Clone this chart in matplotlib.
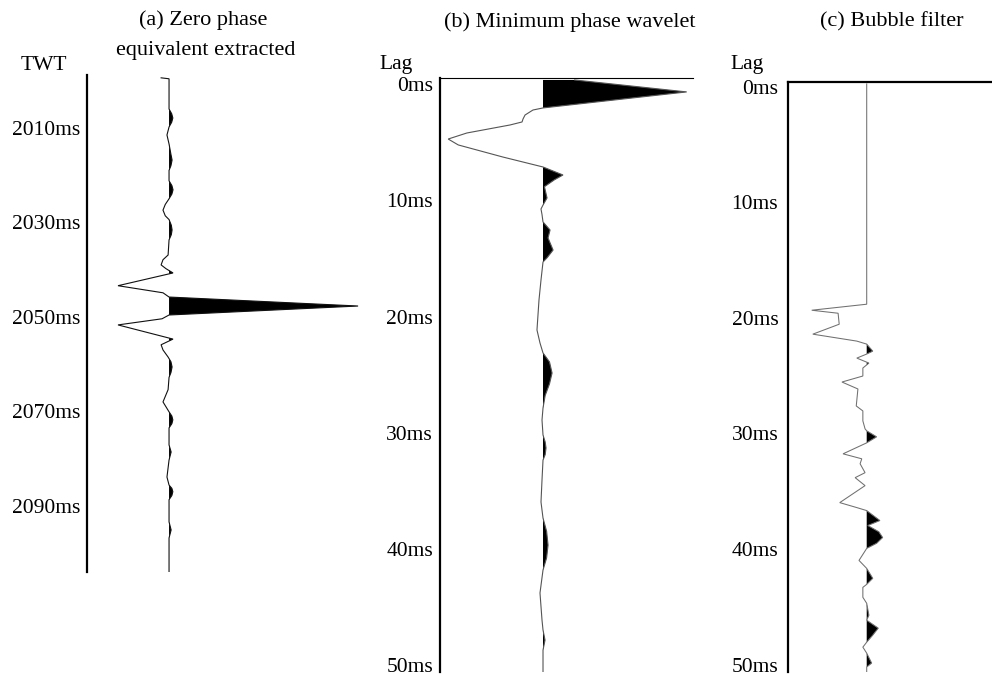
import numpy as np
import matplotlib.pyplot as plt
from matplotlib.transforms import ScaledTranslation

plt.rcParams['font.family'] = ['Liberation Serif', 'DejaVu Serif']
plt.rcParams['font.size'] = 15.5

# (a) zero phase equivalent extracted: two-way time (ms) and relative amplitude
twt_a = [1999.4, 1999.6, 2006.0, 2007.0, 2007.9, 2008.8, 2009.8, 2011.5, 2013.4,
         2015.6, 2016.8, 2018.0, 2019.0, 2021.2, 2022.2, 2023.1, 2024.0, 2025.0,
         2026.2, 2027.4, 2028.6, 2029.4, 2030.6, 2031.6, 2032.6, 2033.7, 2036.9,
         2037.9, 2039.0, 2039.8, 2040.7, 2043.4, 2044.9, 2045.8, 2047.7, 2049.6,
         2050.4, 2051.7, 2054.7, 2055.9, 2057.0, 2058.5, 2059.5, 2060.6, 2061.8,
         2062.8, 2065.4, 2068.0, 2070.1, 2071.0, 2071.8, 2072.6, 2073.5, 2077.1,
         2078.6, 2080.3, 2083.9, 2085.6, 2086.3, 2087.0, 2087.8, 2088.7, 2093.4,
         2095.1, 2096.8, 2104.0]
amp_a = [-0.042, 0.0, 0.0, 0.014, 0.020, 0.014, 0.0, -0.011, 0.0,
         0.010, 0.016, 0.010, 0.0, 0.0, 0.015, 0.021, 0.015, 0.0,
         -0.020, -0.032, -0.020, 0.0, 0.012, 0.016, 0.012, 0.0, -0.005,
         -0.032, -0.042, -0.016, 0.021, -0.270, -0.032, 0.0, 1.0, 0.0,
         -0.037, -0.270, 0.021, -0.042, -0.032, -0.005, 0.010, 0.016, 0.010,
         0.0, -0.005, -0.032, 0.0, 0.015, 0.020, 0.015, 0.0, 0.0,
         0.011, 0.0, -0.011, 0.0, 0.015, 0.020, 0.015, 0.0, 0.0,
         0.011, 0.0, 0.0]

# (b) minimum phase wavelet: lag (ms) and relative amplitude
lag_b = [0.00, 1.03, 2.41, 2.59, 3.02, 3.36, 3.62, 3.88, 4.57, 5.09, 5.60, 6.64,
         7.50, 8.19, 8.60, 9.20, 10.17, 10.78, 11.12, 11.60, 12.24, 12.93, 13.62,
         14.66, 15.30, 15.69, 17.24, 18.97, 21.55, 22.67, 23.53, 24.30, 25.26,
         26.20, 27.20, 28.28, 29.31, 30.60, 31.20, 31.72, 32.30, 32.76, 34.48,
         36.38, 37.76, 38.90, 40.09, 41.20, 42.24, 44.22, 46.55, 47.41, 48.28,
         49.14, 51.03]
amp_b = [0.22, 1.00, 0.0, -0.07, -0.125, -0.139, -0.146, -0.23, -0.53, -0.66, -0.59, -0.28,
         0.0, 0.139, 0.08, 0.01, 0.028, 0.0, -0.014, -0.007, 0.0, 0.049, 0.035,
         0.07, 0.03, 0.0, -0.014, -0.028, -0.042, -0.021, 0.0, 0.045, 0.063,
         0.045, 0.015, 0.0, -0.007, 0.0, 0.015, 0.021, 0.015, 0.0, -0.007,
         -0.014, 0.0, 0.025, 0.035, 0.025, 0.0, -0.021, -0.007, 0.0, 0.014,
         0.0, 0.0]

# (c) bubble filter: lag (ms) and relative amplitude
lag_c = [0.17, 19.22, 19.74, 20.00, 20.95, 21.81, 22.41, 22.67, 23.28, 23.53, 23.88,
         24.31, 24.74, 25.43, 25.95, 26.55, 28.02, 28.45, 29.31, 30.00, 30.17, 30.69,
         31.21, 32.16, 32.59, 33.02, 33.79, 34.22, 34.91, 36.38, 36.81, 37.07, 37.93,
         38.36, 38.90, 39.40, 39.90, 40.34, 41.38, 42.07, 42.93, 43.45, 43.71, 44.57,
         45.09, 46.12, 46.55, 47.24, 47.90, 48.45, 48.88, 49.40, 50.26, 50.60, 51.03]
amp_c = [0.0, 0.0, -1.0, -0.52, -0.50, -0.98, -0.18, 0.0, 0.11, 0.0, -0.18,
         0.04, -0.07, -0.07, -0.45, -0.16, -0.19, -0.07, -0.07, -0.03, 0.0, 0.18,
         0.0, -0.43, -0.09, -0.12, -0.03, -0.21, -0.03, -0.49, -0.18, 0.0, 0.24,
         0.02, 0.22, 0.29, 0.18, 0.0, -0.14, 0.0, 0.11, 0.0, -0.07, -0.07,
         0.0, 0.04, 0.0, 0.21, 0.10, 0.0, -0.07, 0.0, 0.09, 0.0, 0.0]

twt_ticks = [2010, 2030, 2050, 2070, 2090]
lag_ticks = [0, 10, 20, 30, 40, 50]

W, H = 992, 675
fig = plt.figure(figsize=(W / 100, H / 100), dpi=100)


def add_panel(left, top, right, bottom):
    return fig.add_axes([left / W, 1 - bottom / H, (right - left) / W, (bottom - top) / H])


def wiggle(ax, t, a, color, lw=0.8):
    t = np.asarray(t)
    a = np.asarray(a)
    ax.fill_betweenx(t, 0, a, where=a > 0, interpolate=True, color='black', lw=0)
    ax.plot(a, t, color=color, lw=lw, solid_joinstyle='miter')


def style(ax, xlim, ylim, ticks, labels, top_lw=None, pad=6, drop=0.0):
    ax.set_xlim(xlim)
    ax.set_ylim(ylim)
    ax.set_xticks([])
    ax.set_yticks(ticks, labels)
    ax.tick_params(axis='y', length=0, pad=pad, labelsize=15.5)
    ax.spines['right'].set_visible(False)
    ax.spines['bottom'].set_visible(False)
    ax.spines['left'].set_linewidth(1.6)
    if top_lw is None:
        ax.spines['top'].set_visible(False)
    else:
        ax.spines['top'].set_linewidth(top_lw)
    ax.patch.set_visible(False)
    # nudge the lag labels down so "0ms" clears the "Lag" heading
    if drop:
        shift = ScaledTranslation(0, -drop, fig.dpi_scale_trans)
        for lbl in ax.get_yticklabels():
            lbl.set_transform(lbl.get_transform() + shift)


# panel a
ax_a = add_panel(87, 75, 370, 572)
wiggle(ax_a, twt_a, amp_a, '#111111')
style(ax_a, (-0.434, 1.063), (2104.0, 1998.8), twt_ticks,
      [f'{v}ms' for v in twt_ticks], pad=5)

# panel b
ax_b = add_panel(440, 78, 693, 672)
wiggle(ax_b, lag_b, amp_b, '#555555')
style(ax_b, (-0.717, 1.044), (51.03, -0.17), lag_ticks,
      [f'{v}ms' for v in lag_ticks], top_lw=0.8, pad=5, drop=0.045)

# panel c
ax_c = add_panel(788, 82, 992, 672)
wiggle(ax_c, lag_c, amp_c, '#707070', lw=0.75)
style(ax_c, (-1.431, 2.278), (51.03, 0.17), lag_ticks,
      [f'{v}ms' for v in lag_ticks], top_lw=1.6, pad=7, drop=0.045)


def label(x, y, s, size=16):
    fig.text(x / W, 1 - y / H, s, ha='center', va='center', fontsize=size)


label(203, 20, '(a) Zero phase')
label(206, 50, 'equivalent extracted')
label(44, 65, 'TWT', size=15.5)
label(570, 22, '(b) Minimum phase wavelet')
label(396, 64, 'Lag', size=15.5)
label(892, 22, '(c) Bubble filter')
label(747, 64, 'Lag', size=15.5)

fig.savefig('out.png', dpi=100)
